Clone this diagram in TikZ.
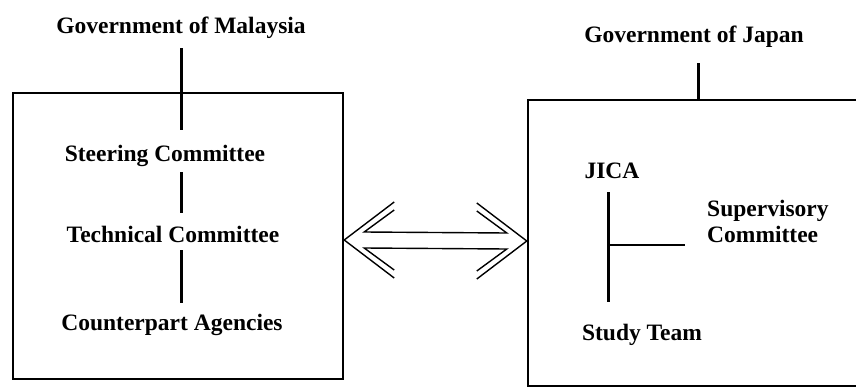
\documentclass[tikz,border=0pt]{standalone}
\usepackage{fontspec}
\setmainfont{Liberation Serif}

\tikzset{
  orgtext/.style={font=\bfseries\fontsize{23.5}{26}\selectfont, inner sep=2pt, anchor=base},
  orgbox/.style={draw, line width=2.4pt, inner sep=0pt},
  trunk/.style={line width=3pt},
  branch/.style={line width=1.1pt},
  twin/.style={line width=1.4pt, line join=miter}
}

\begin{document}
\begin{tikzpicture}[x=1pt, y=-1pt]
  \useasboundingbox (0,0) rectangle (856,388);
  % the two sides
  \node[orgbox, minimum width=330pt, minimum height=286pt] (mybox) at (178,236) {};
  \node[orgbox, minimum width=422pt, minimum height=286pt] (jpbox) at (739,243) {};

  % Malaysian side
  \node[orgtext] (govmy) at (181,33) {Government of Malaysia};
  \node[orgtext] (steer) at (165,161) {Steering Committee};
  \node[orgtext] (tech) at (173,242) {Technical Committee};
  \node[orgtext] (counter) at (172,330) {Counterpart Agencies};
  \coordinate (mytrunk) at (181,0);
  \draw[trunk] (govmy.south -| mytrunk) ++(0,8) -- (mytrunk |- 0,130);
  \draw[trunk] (mytrunk |- 0,172) -- (mytrunk |- 0,213);
  \draw[trunk] (mytrunk |- 0,250) -- (mytrunk |- 0,303);

  % Japanese side
  \node[orgtext] (govjp) at (694,42) {Government of Japan};
  \node[orgtext] (jica) at (612,178) {JICA};
  \node[orgtext, align=left, anchor=base west] (super) at (705,242) {Supervisory\\Committee};
  \node[orgtext] (study) at (642,340) {Study Team};
  \coordinate (jptrunk) at (608,0);
  \draw[trunk] (govjp.south -| 698,0) ++(0,14) -- (jpbox.north -| 698,0);
  \draw[trunk] (jptrunk |- 0,192) -- (jptrunk |- 0,302);
  \draw[branch] (jptrunk |- 0,245) -- (685,245);

  % double arrow between the sides
  \coordinate (ltip) at (mybox.east |- 0,240);
  \coordinate (rtip) at (jpbox.west |- 0,241);
  \draw[twin] ([shift={(50,-38)}]ltip) -- (ltip) -- ([shift={(50,38)}]ltip);
  \draw[twin] ([shift={(-50,-38)}]rtip) -- (rtip) -- ([shift={(-50,38)}]rtip);
  \draw[twin] ([shift={(50,-30)}]ltip) -- ([shift={(20,-8)}]ltip)
    -- ([shift={(-20,-8)}]rtip) -- ([shift={(-50,-30)}]rtip);
  \draw[twin] ([shift={(50,30)}]ltip) -- ([shift={(20,8)}]ltip)
    -- ([shift={(-20,8)}]rtip) -- ([shift={(-50,30)}]rtip);
\end{tikzpicture}
\end{document}
